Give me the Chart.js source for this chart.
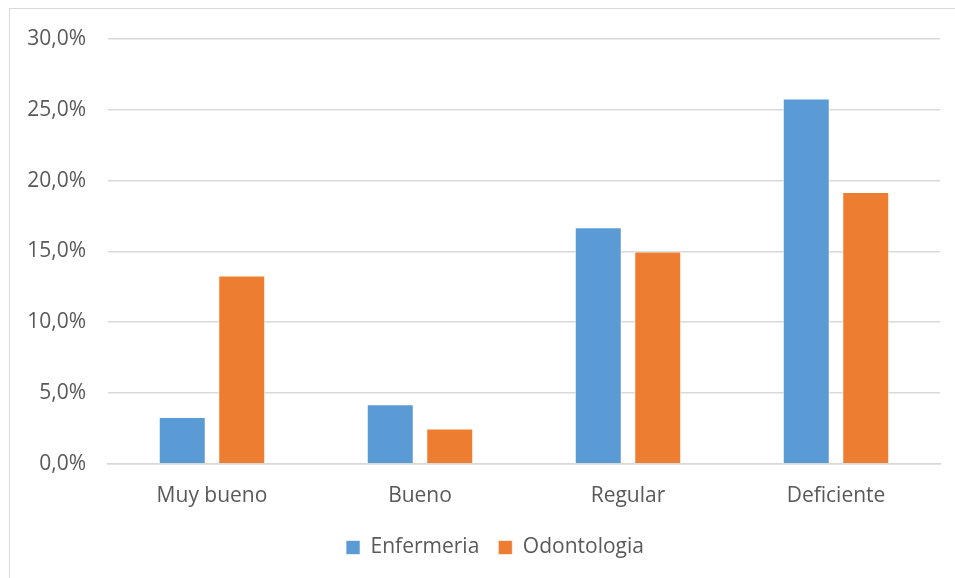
<!DOCTYPE html>
<html>
<head>
<meta charset="utf-8">
<script src="https://cdn.jsdelivr.net/npm/chart.js@4.4.1/dist/chart.umd.min.js"></script>
<style>
html,body{margin:0;padding:0;background:#fff;}
#wrap{position:relative;width:955px;height:578px;overflow:hidden;}
#frame{position:absolute;left:9px;top:8px;width:960px;height:600px;border:1.5px solid #d9d9d9;box-sizing:border-box;}
#c{position:absolute;left:0;top:0;}
</style>
</head>
<body>
<div id="wrap">
<div id="frame"></div>
<canvas id="c" width="955" height="578"></canvas>
</div>
<script>
const categories = ["Muy bueno", "Bueno", "Regular", "Deficiente"];
const enfermeria = [3.3, 4.2, 16.7, 25.8];
const odontologia = [13.3, 2.5, 15.0, 19.2];
const seriesNames = ["Enfermeria", "Odontologia"];
const yTicks = [0, 5, 10, 15, 20, 25, 30];

const FONT = "'Open Sans', Lato, sans-serif";
Chart.defaults.font.family = FONT;
Chart.defaults.color = "#595959";

const LEGEND_PAD = 8;      // padding used for layout
const LEGEND_GAP = 19;     // horizontal gap between legend items when drawn
const LEGEND_SHIFT = 14;   // horizontal shift of the legend block

const chart = new Chart(document.getElementById("c"), {
  type: "bar",
  data: {
    labels: categories,
    datasets: [
      { label: seriesNames[0], data: enfermeria, backgroundColor: "#5B9BD5", borderColor: "rgba(255,255,255,0.6)", borderWidth: 1 },
      { label: seriesNames[1], data: odontologia, backgroundColor: "#ED7D31", borderColor: "rgba(255,255,255,0.6)", borderWidth: 1 }
    ]
  },
  options: {
    responsive: false,
    animation: false,
    devicePixelRatio: 1,
    layout: { padding: { left: 0, right: 15, top: 39, bottom: 10 } },
    datasets: { bar: { categoryPercentage: 0.572, barPercentage: 0.79 } },
    plugins: {
      legend: {
        position: "bottom",
        labels: { boxWidth: 14, boxHeight: 14, font: { size: 21 }, color: "#595959", padding: LEGEND_PAD }
      },
      tooltip: { enabled: false }
    },
    scales: {
      x: {
        grid: { display: false, drawTicks: false },
        border: { display: true, color: "#d9d9d9", width: 1.5 },
        ticks: { font: { size: 21 }, color: "#595959", padding: 20 }
      },
      y: {
        min: 0, max: 30,
        afterBuildTicks: (s) => { s.ticks = yTicks.map(v => ({ value: v })); },
        afterFit: (s) => { s.width = 108; },
        grid: { color: "#d9d9d9", lineWidth: 1.5, drawTicks: false },
        border: { display: false },
        ticks: {
          font: { size: 21 }, color: "#595959", padding: 22,
          callback: (v) => v.toFixed(1).replace(".", ",") + "%"
        }
      }
    }
  }
});

try {
  const lg = chart.legend;
  const origDraw = lg.draw.bind(lg);
  lg.draw = function () {
    const t = this.top, l = this.left, r = this.right;
    try {
      this.options.labels.padding = LEGEND_GAP;
      this.top = t - (LEGEND_GAP - LEGEND_PAD);
      this.left = l + LEGEND_SHIFT;
      this.right = r + LEGEND_SHIFT;
      origDraw();
    } finally {
      this.top = t; this.left = l; this.right = r;
      this.options.labels.padding = LEGEND_PAD;
    }
  };
  chart.draw();
} catch (e) { console.error(e); }
</script>
</body>
</html>
